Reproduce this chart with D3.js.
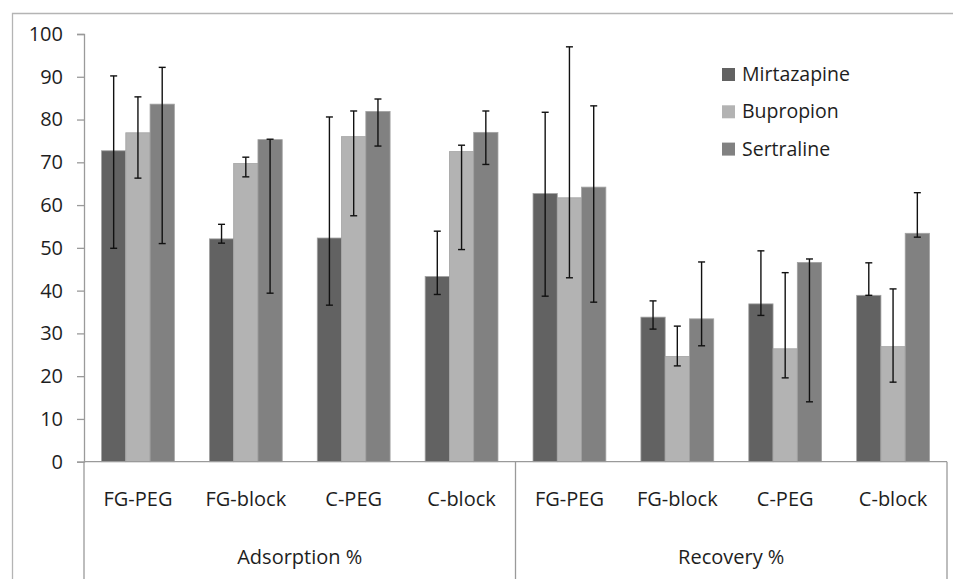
<!DOCTYPE html>
<html>
<head>
<meta charset="utf-8">
<script src="https://cdn.jsdelivr.net/npm/d3@7"></script>
<style>
  html, body { margin: 0; padding: 0; background: #fff; }
  svg { display: block; font-family: "Open Sans", sans-serif; }
</style>
</head>
<body>
<svg id="chart" width="953" height="579"></svg>
<script>
// Sub-categories (inner axis level) and the outer groups they belong to
const categories = ["FG-PEG", "FG-block", "C-PEG", "C-block"];
const groups = ["Adsorption %", "Recovery %"];
const seriesNames = ["Mirtazapine", "Bupropion", "Sertraline"];
const seriesColors = ["#626262", "#b3b3b3", "#818181"];

// Mean values, in order: 4 adsorption columns then 4 recovery columns
const mirtazapine = [72.7, 52.1, 52.3, 43.3, 62.7, 33.8, 36.9, 38.9];
const bupropion   = [76.9, 69.7, 76.0, 72.5, 61.7, 24.6, 26.4, 26.9];
const sertraline  = [83.6, 75.3, 81.9, 77.0, 64.2, 33.4, 46.6, 53.4];

// Whisker ends (low, high) for each column
const mirtazapineLow  = [49.9, 51.1, 36.6, 39.1, 38.7, 31.0, 34.2, 38.9];
const mirtazapineHigh = [90.2, 55.5, 80.6, 53.9, 81.7, 37.6, 49.3, 46.5];
const bupropionLow    = [66.3, 66.6, 57.5, 49.6, 43.0, 22.4, 19.6, 18.6];
const bupropionHigh   = [85.3, 71.2, 82.0, 74.0, 97.0, 31.7, 44.2, 40.4];
const sertralineLow   = [51.0, 39.4, 73.8, 69.5, 37.3, 27.1, 14.0, 52.5];
const sertralineHigh  = [92.2, 75.4, 84.8, 82.0, 83.2, 46.7, 47.4, 62.9];

const yTicks = [0, 10, 20, 30, 40, 50, 60, 70, 80, 90, 100];

const values = [mirtazapine, bupropion, sertraline];
const lows = [mirtazapineLow, bupropionLow, sertralineLow];
const highs = [mirtazapineHigh, bupropionHigh, sertralineHigh];

const columns = [];
groups.forEach((g, gi) => categories.forEach((c, ci) => columns.push({ key: gi * categories.length + ci, group: g, cat: c })));

const svg = d3.select("#chart");
const plotLeft = 84, plotRight = 947, plotTop = 34, plotBottom = 461.7;
const axisColor = "#9a9a9a";
const textColor = "#1e1e1e";

// chart area frame (continues past the page edges on the right and bottom)
svg.append("path")
  .attr("d", "M12.5,579 V13.5 H953")
  .attr("fill", "none").attr("stroke", "#b4b4b4").attr("stroke-width", 1.3);

const x0 = d3.scaleBand()
  .domain(columns.map(d => d.key))
  .range([plotLeft, plotRight])
  .paddingInner(0.325)
  .paddingOuter(0.1625);

const x1 = d3.scaleBand()
  .domain(seriesNames)
  .range([0, x0.bandwidth()]);

const y = d3.scaleLinear().domain([0, 100]).range([plotBottom, plotTop]);

// y axis
const yAxis = svg.append("g")
  .attr("transform", `translate(${plotLeft},0)`)
  .call(d3.axisLeft(y).tickValues(yTicks).tickSize(7).tickPadding(14));
yAxis.select(".domain").attr("stroke", axisColor).attr("stroke-width", 1.3);
yAxis.selectAll(".tick line").attr("stroke", axisColor).attr("stroke-width", 1.3);
yAxis.selectAll(".tick text")
  .attr("fill", textColor)
  .style("font-size", "20px")
  .style("font-family", "'Open Sans', sans-serif");

// bars
const colGroups = svg.append("g").selectAll("g")
  .data(columns)
  .join("g")
  .attr("transform", d => `translate(${x0(d.key)},0)`);

seriesNames.forEach((s, si) => {
  colGroups.append("rect")
    .attr("x", x1(s))
    .attr("width", x1.bandwidth())
    .attr("y", d => y(values[si][d.key]))
    .attr("height", d => y(0) - y(values[si][d.key]))
    .attr("fill", seriesColors[si])
    .attr("stroke", "#a2a2a2")
    .attr("stroke-width", 0.8);
});

// x axis baseline and category dividers
const xAxisG = svg.append("g");
xAxisG.append("line")
  .attr("x1", plotLeft).attr("x2", plotRight)
  .attr("y1", y(0)).attr("y2", y(0))
  .attr("stroke", axisColor).attr("stroke-width", 1.3);

const groupEdges = [plotLeft, x0(categories.length) - x0.step() * x0.paddingInner() / 2, plotRight];
groupEdges.forEach(xv => {
  xAxisG.append("line")
    .attr("x1", xv).attr("x2", xv)
    .attr("y1", y(0)).attr("y2", 579)
    .attr("stroke", axisColor).attr("stroke-width", 1.3);
});

// error bars
const capHalf = 3.5;
seriesNames.forEach((s, si) => {
  const eg = colGroups.append("g")
    .attr("stroke", "#111").attr("stroke-width", 1.4).attr("fill", "none");
  const cx = x1(s) + x1.bandwidth() / 2;
  eg.append("line")
    .attr("x1", cx).attr("x2", cx)
    .attr("y1", d => y(lows[si][d.key]))
    .attr("y2", d => y(highs[si][d.key]));
  eg.append("line")
    .attr("x1", cx - capHalf).attr("x2", cx + capHalf)
    .attr("y1", d => y(highs[si][d.key])).attr("y2", d => y(highs[si][d.key]));
  eg.append("line")
    .attr("x1", cx - capHalf).attr("x2", cx + capHalf)
    .attr("y1", d => y(lows[si][d.key])).attr("y2", d => y(lows[si][d.key]));
});

// category labels
svg.append("g").selectAll("text")
  .data(columns)
  .join("text")
  .attr("x", d => x0(d.key) + x0.bandwidth() / 2)
  .attr("y", 506)
  .attr("text-anchor", "middle")
  .attr("fill", textColor)
  .style("font-size", "20px")
  .text(d => d.cat);

// group labels
svg.append("g").selectAll("text")
  .data(groups)
  .join("text")
  .attr("x", (d, i) => (groupEdges[i] + groupEdges[i + 1]) / 2)
  .attr("y", 564)
  .attr("text-anchor", "middle")
  .attr("fill", textColor)
  .style("font-size", "20px")
  .text(d => d);

// legend
const legend = svg.append("g").attr("transform", "translate(722,68)");
seriesNames.forEach((s, i) => {
  const row = legend.append("g").attr("transform", `translate(0,${i * 37.3})`);
  row.append("rect")
    .attr("width", 13).attr("height", 13)
    .attr("fill", seriesColors[i]);
  row.append("text")
    .attr("x", 20).attr("y", 13)
    .attr("fill", textColor)
    .style("font-size", "19.5px")
    .text(s);
});
</script>
</body>
</html>
